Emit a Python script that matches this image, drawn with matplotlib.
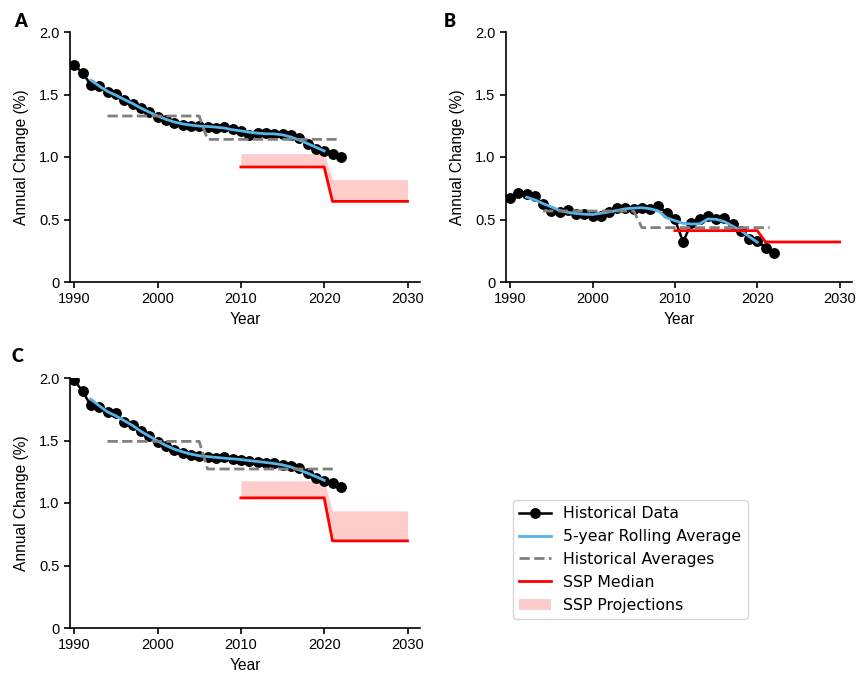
import matplotlib
matplotlib.use("Agg")
import matplotlib.pyplot as plt
import numpy as np
import pandas as pd

# ---------------- data ----------------
years = list(range(1990, 2023))

hist_A = [1.74, 1.67, 1.58, 1.565, 1.52, 1.505, 1.455, 1.427, 1.395, 1.36,
          1.32, 1.293, 1.275, 1.26, 1.252, 1.246, 1.244, 1.236, 1.242, 1.227,
          1.208, 1.178, 1.19, 1.19, 1.188, 1.183, 1.175, 1.15, 1.105, 1.065,
          1.045, 1.027, 1.0]
hist_B = [0.672, 0.712, 0.701, 0.685, 0.621, 0.568, 0.56, 0.573, 0.541, 0.541,
          0.528, 0.528, 0.56, 0.592, 0.595, 0.587, 0.595, 0.587, 0.608, 0.552,
          0.501, 0.32, 0.472, 0.501, 0.525, 0.507, 0.515, 0.461, 0.408, 0.347,
          0.328, 0.275, 0.235]
hist_C = [1.985, 1.893, 1.781, 1.768, 1.728, 1.72, 1.648, 1.621, 1.578, 1.533,
          1.487, 1.458, 1.426, 1.399, 1.386, 1.378, 1.367, 1.359, 1.367, 1.354,
          1.346, 1.34, 1.332, 1.324, 1.319, 1.306, 1.298, 1.279, 1.239, 1.199,
          1.18, 1.159, 1.132]

avg_years = [1994, 2005, 2006, 2021.5]
avg_A = [1.328, 1.328, 1.141, 1.141]
avg_B = [0.568, 0.568, 0.435, 0.435]
avg_C = [1.493, 1.493, 1.272, 1.272]

ssp_years = list(range(2010, 2031))
ssp_med_A = [0.92] * 11 + [0.645] * 10
ssp_high_A = [1.027] * 11 + [0.819] * 10
ssp_med_B = [0.411] * 11 + [0.32] * 10
ssp_high_B = [0.411] * 11 + [0.32] * 10
ssp_med_C = [1.041] * 11 + [0.697] * 10
ssp_high_C = [1.178] * 11 + [0.937] * 10

panel_labels = ["A", "B", "C"]
x_ticks = [1990, 2000, 2010, 2020, 2030]
y_ticks = [0, 0.5, 1.0, 1.5, 2.0]
y_tick_labels = ["0", "0.5", "1.0", "1.5", "2.0"]
legend_labels = ["Historical Data", "5-year Rolling Average", "Historical Averages",
                 "SSP Median", "SSP Projections"]

# ---------------- figure ----------------
W, H = 861, 678
fig = plt.figure(figsize=(W / 100, H / 100), dpi=100)

def fr(left, top, right, bottom):
    return [left / W, 1 - bottom / H, (right - left) / W, (bottom - top) / H]

axes_pos = [fr(70, 32, 420, 282), fr(506, 32, 852, 282), fr(70, 378, 420, 628)]
label_pos = [(14, 27), (444, 27), (12, 362)]

tick_font = "Liberation Sans"
BLUE = "#56B4E9"

panels = [
    (hist_A, avg_A, ssp_med_A, ssp_high_A),
    (hist_B, avg_B, ssp_med_B, ssp_high_B),
    (hist_C, avg_C, ssp_med_C, ssp_high_C),
]

handles = None
for pos, (hist, avg, med, high), lab, lpos in zip(axes_pos, panels, panel_labels, label_pos):
    ax = fig.add_axes(pos)
    roll = pd.Series(hist, index=years).rolling(5, center=True).mean()
    h1, = ax.plot(years, hist, "-o", color="black", lw=1.8, ms=6.8, zorder=3)
    h2, = ax.plot(roll.index, roll.values, color=BLUE, lw=2, zorder=4)
    h3, = ax.plot(avg_years, avg, "--", color="gray", lw=2, zorder=5)
    h5 = ax.fill_between(ssp_years, med, high, color="red", alpha=0.2, lw=0, zorder=2)
    h4, = ax.plot(ssp_years, med, color="red", lw=2, zorder=6)
    handles = [h1, h2, h3, h4, h5]

    ax.set_xlim(1989.5, 2031.5)
    ax.set_ylim(0, 2.0)
    ax.set_xticks(x_ticks)
    ax.set_xticklabels([str(t) for t in x_ticks], fontfamily=tick_font, fontsize=10.5)
    ax.set_yticks(y_ticks)
    ax.set_yticklabels(y_tick_labels, fontfamily=tick_font, fontsize=10.5)
    ax.set_xlabel("Year", fontfamily=tick_font, fontsize=11.2, labelpad=4)
    ax.set_ylabel("Annual Change (%)", fontfamily=tick_font, fontsize=11.2, labelpad=7)
    for s in ["top", "right"]:
        ax.spines[s].set_visible(False)
    for s in ["left", "bottom"]:
        ax.spines[s].set_linewidth(1.2)
    ax.tick_params(direction="out", length=4, width=1.2)
    fig.text(lpos[0] / W, 1 - lpos[1] / H, lab, fontfamily="Lato", fontweight="heavy",
             fontsize=13)

fig.legend(handles, legend_labels, loc="upper left",
           bbox_to_anchor=(513 / W, 1 - 500 / H), prop={"family": "DejaVu Sans", "size": 11.3},
           borderaxespad=0, labelspacing=0.5)

fig.savefig("out.png", dpi=100)
